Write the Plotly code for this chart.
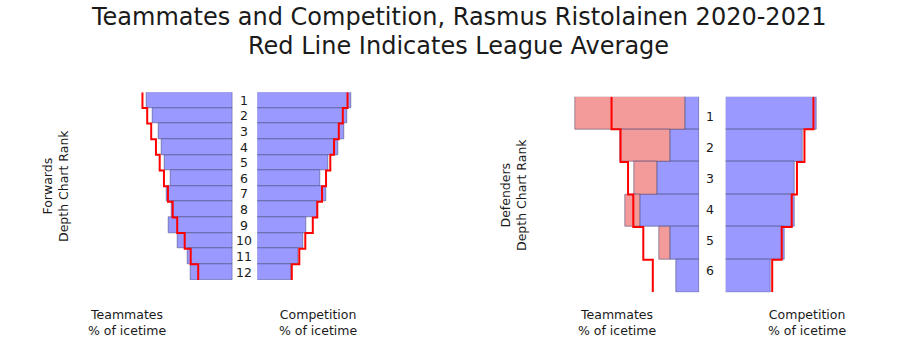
import plotly.graph_objects as go

W, H = 921, 346
PX = 2.5  # pixels per % unit

fwd_ranks = list(range(1, 13))
fwd_teammates = [34.3, 31.9, 29.8, 28.5, 27.4, 24.7, 26.5, 24.4, 25.7, 22.2, 18.1, 17.0]
fwd_competition = [37.7, 36.0, 34.9, 32.3, 28.3, 25.3, 27.7, 24.0, 19.7, 18.3, 16.3, 13.5]
fwd_league_avg = [36.1, 34.2, 32.6, 30.7, 29.2, 27.5, 25.9, 24.0, 22.2, 19.2, 16.8, 13.8]

def_ranks = list(range(1, 7))
def_teammates = [5.7, 11.7, 16.8, 23.7, 11.7, 9.1]
def_teammates_total = [49.5, 31.5, 26.1, 29.7, 16.1, 9.1]
def_competition = [36.4, 30.9, 27.7, 27.6, 23.5, 17.9]
def_league_avg = [35.1, 31.5, 28.5, 26.4, 22.4, 18.6]

BLUE = "#9999ff"
PINK = "#f39a9a"
EDGE = "rgba(60,60,110,0.5)"
FONT = "DejaVu Sans"


def xd(px):
    return px / W


def yd(py):
    return 1 - py / H


def step(vals, ranks):
    xs, ys = [], []
    for v, r in zip(vals, ranks):
        xs += [v, v]
        ys += [r - 0.5, r + 0.5]
    return xs, ys


fig = go.Figure()


def bars(vals, ranks, xa, ya, color, base=None):
    fig.add_trace(go.Bar(
        x=vals, y=ranks, base=base, orientation="h", width=1,
        marker=dict(color=color, line=dict(color=EDGE, width=1)),
        xaxis=xa, yaxis=ya, showlegend=False, hoverinfo="skip"))


def redline(vals, ranks, xa, ya):
    xs, ys = step(vals, ranks)
    fig.add_trace(go.Scatter(
        x=xs, y=ys, mode="lines", line=dict(color="#ff0000", width=2),
        xaxis=xa, yaxis=ya, showlegend=False, hoverinfo="skip", cliponaxis=False))


# Forwards
bars(fwd_teammates, fwd_ranks, "x", "y", BLUE)
redline(fwd_league_avg, fwd_ranks, "x", "y")
bars(fwd_competition, fwd_ranks, "x2", "y", BLUE)
redline(fwd_league_avg, fwd_ranks, "x2", "y")

# Defenders
bars(def_teammates, def_ranks, "x3", "y2", BLUE)
extra = [t - b if t - b > 0 else None for t, b in zip(def_teammates_total, def_teammates)]
bars(extra, def_ranks, "x3", "y2", PINK, base=def_teammates)
redline(def_league_avg, def_ranks, "x3", "y2")
bars(def_competition, def_ranks, "x4", "y2", BLUE)
redline(def_league_avg, def_ranks, "x4", "y2")

hidden = dict(visible=False, showgrid=False, zeroline=False, fixedrange=True)

fig.update_layout(
    width=W, height=H, margin=dict(l=0, r=0, t=0, b=0),
    paper_bgcolor="white", plot_bgcolor="rgba(0,0,0,0)",
    barmode="overlay", bargap=0,
    font=dict(family=FONT, color="#1a1a1a"),
    xaxis=dict(domain=[xd(32.7), xd(232.7)], range=[200 / PX, 0], anchor="y", **hidden),
    xaxis2=dict(domain=[xd(257.3), xd(457.3)], range=[0, 200 / PX], anchor="y", **hidden),
    xaxis3=dict(domain=[xd(499.3), xd(699.3)], range=[200 / PX, 0], anchor="y2", **hidden),
    xaxis4=dict(domain=[xd(725.7), xd(905.7)], range=[0, 180 / PX], anchor="y2", **hidden),
    yaxis=dict(domain=[yd(280), yd(92.3)], range=[12.5, 0.5], anchor="x", **hidden),
    yaxis2=dict(domain=[yd(292.3), yd(96.7)], range=[6.5, 0.5], anchor="x3", **hidden),
)

ann = []
# rank labels
for r in fwd_ranks:
    ann.append(dict(x=xd(243.5), y=r, xref="paper", yref="y", text=str(r), showarrow=False,
                    xanchor="center", yanchor="middle", font=dict(size=12.5)))
for r in def_ranks:
    ann.append(dict(x=xd(710), y=yd(116.7 + (r - 1) * 30.85), xref="paper", yref="paper",
                    text=str(r), showarrow=False,
                    xanchor="center", yanchor="middle", font=dict(size=12.5)))

# title
ann.append(dict(x=xd(458), y=yd(17.5), xref="paper", yref="paper",
                text="Teammates and Competition, Rasmus Ristolainen 2020-2021",
                showarrow=False, xanchor="center", yanchor="middle", font=dict(size=24)))
ann.append(dict(x=xd(458), y=yd(46), xref="paper", yref="paper",
                text="Red Line Indicates League Average",
                showarrow=False, xanchor="center", yanchor="middle", font=dict(size=24)))

# x labels
for xp, txt in [(127, "Teammates"), (318, "Competition"), (617, "Teammates"), (807, "Competition")]:
    ann.append(dict(x=xd(xp), y=yd(322), xref="paper", yref="paper",
                    text=txt + "<br>% of icetime", showarrow=False,
                    xanchor="center", yanchor="middle", font=dict(size=12.5)))

# y labels
ann.append(dict(x=xd(55), y=yd(186), xref="paper", yref="paper",
                text="Forwards<br>Depth Chart Rank", textangle=-90, showarrow=False,
                xanchor="center", yanchor="middle", font=dict(size=12.5)))
ann.append(dict(x=xd(513), y=yd(195), xref="paper", yref="paper",
                text="Defenders<br>Depth Chart Rank", textangle=-90, showarrow=False,
                xanchor="center", yanchor="middle", font=dict(size=12.5)))

fig.update_layout(annotations=ann)

fig.write_html("out.html")
